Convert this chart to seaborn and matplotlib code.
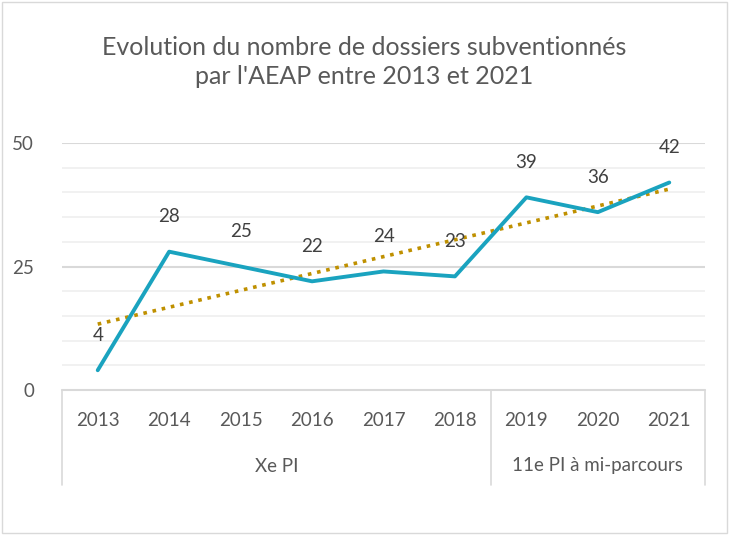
import numpy as np
import pandas as pd
import matplotlib
matplotlib.use('Agg')
import matplotlib.pyplot as plt
import matplotlib.transforms as mtrans
from matplotlib.patches import Rectangle
import seaborn as sns

# Données
annees = ['2013', '2014', '2015', '2016', '2017', '2018', '2019', '2020', '2021']
dossiers = [4, 28, 25, 22, 24, 23, 39, 36, 42]
groupes = ['Xe PI', '11e PI à mi-parcours']
taille_groupes = [6, 3]

TITRE = "Evolution du nombre de dossiers subventionnés\npar l'AEAP entre 2013 et 2021"
GRIS = '#595959'
BLEU = '#1AA3BF'
OR = '#BF9000'

sns.set_theme(style='white')
plt.rcParams['font.family'] = ['Lato', 'DejaVu Sans']

df = pd.DataFrame({'pos': np.arange(len(annees)), 'annee': annees, 'dossiers': dossiers})

fig = plt.figure(figsize=(7.29, 5.35), dpi=100)
ax = fig.add_axes([62 / 729, 1 - 390 / 535, (705 - 62) / 729, (390 - 143) / 535])

# grille
for y in range(5, 50, 5):
    ax.axhline(y, color='#EFEFEF', lw=1.2, zorder=0)
for y in [25, 50]:
    ax.axhline(y, color='#D9D9D9', lw=1.5, zorder=0)

# courbe de tendance linéaire
sns.regplot(data=df, x='pos', y='dossiers', ci=None, scatter=False, truncate=True,
            line_kws={'color': OR, 'linestyle': (0, (1, 1.6)), 'lw': 2.6}, ax=ax)
sns.lineplot(data=df, x='pos', y='dossiers', color=BLEU, lw=2.8, ax=ax, zorder=3)

for x, v in zip(df['pos'], df['dossiers']):
    ax.annotate(str(v), (x, v), xytext=(0, 25), textcoords='offset points',
                ha='center', va='center', fontsize=13.5, color='#404040')

ax.set_xlim(-0.5, len(annees) - 0.5)
ax.set_ylim(0, 50)
ax.set_yticks([0, 25, 50])
ax.set_yticklabels(['0', '25', '50'])
ax.set_xticks([])
ax.set_xlabel('')
ax.set_ylabel('')
ax.tick_params(axis='y', length=0, pad=20, labelsize=13.5, labelcolor=GRIS)
for s in ax.spines.values():
    s.set_visible(False)

# axe multi-niveaux
trans = mtrans.blended_transform_factory(ax.transData, fig.transFigure)
y0 = 1 - 390 / 535
y1 = 1 - 485 / 535
ax.plot([-0.5, len(annees) - 0.5], [y0, y0], transform=trans, color='#D9D9D9', lw=1.5, clip_on=False)
debut = -0.5
for g, n in zip(groupes, taille_groupes):
    ax.plot([debut, debut], [y0, y1], transform=trans, color='#D9D9D9', lw=1.2, clip_on=False)
    ax.text(debut + n / 2, 1 - 466 / 535, g, transform=trans, ha='center', va='center',
            fontsize=13.5, color=GRIS)
    debut += n
ax.plot([debut, debut], [y0, y1], transform=trans, color='#D9D9D9', lw=1.2, clip_on=False)
for x, a in zip(df['pos'], annees):
    ax.text(x, 1 - 421 / 535, a, transform=trans, ha='center', va='center', fontsize=13.5, color=GRIS)

fig.text(0.5, 1 - 62 / 535, TITRE, ha='center', va='center', fontsize=18, color=GRIS,
         linespacing=1.3)

fig.patches.append(Rectangle((0.003, 0.003), 0.994, 0.994, transform=fig.transFigure,
                             fill=False, edgecolor='#D9D9D9', lw=1))

fig.savefig('out.png', dpi=100)
